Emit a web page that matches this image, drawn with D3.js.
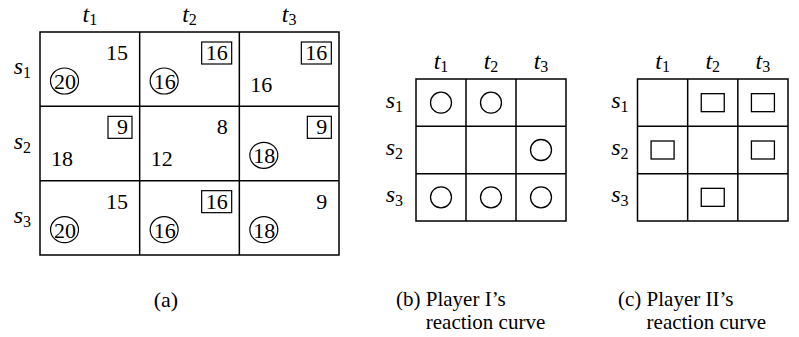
<!DOCTYPE html>
<html><head><meta charset="utf-8">
<script src="https://cdn.jsdelivr.net/npm/d3@7"></script>
<style>
body{margin:0;background:#fff;}
</style></head>
<body>
<svg id="chart" width="799" height="337"></svg>
<script>
// ---- data ----
const rowNames = ["s", "s", "s"];
const rowSubs = ["1", "2", "3"];
const colNames = ["t", "t", "t"];
const colSubs = ["1", "2", "3"];
// Player I payoffs (lower-left of each cell)
const payoffI = [[20, 16, 16], [18, 12, 18], [20, 16, 18]];
// Player II payoffs (upper-right of each cell)
const payoffII = [[15, 16, 16], [9, 8, 9], [15, 16, 9]];
// Player I best responses (circled)
const bestI = [[1, 1, 0], [0, 0, 1], [1, 1, 1]];
// Player II best responses (boxed)
const bestII = [[0, 1, 1], [1, 0, 1], [0, 1, 0]];
const captionA = ["(a)"];
const captionB = ["(b) ", "Player I\u2019s", "reaction curve"];
const captionC = ["(c) ", "Player II\u2019s", "reaction curve"];

const FONT = "Liberation Serif";
const svg = d3.select("#chart");
const idx = [0, 1, 2];

function txt(sel) { return sel.append("text").attr("font-family", FONT).attr("fill", "#000"); }

function makePanel(x0, x1, y0, y1, rowGap) {
  const x = d3.scaleBand().domain(idx).range([x0, x1]).padding(0);
  const y = d3.scaleBand().domain(idx).range([y0, y1]).padding(0);
  const g = svg.append("g");
  idx.forEach(j => {
    const t = txt(g).attr("x", x(j) + x.bandwidth() / 2).attr("y", y0 - 10)
      .attr("text-anchor", "middle").attr("font-size", 24);
    t.append("tspan").attr("font-style", "italic").text(colNames[j]);
    t.append("tspan").attr("dy", 3).attr("font-size", 16).text(colSubs[j]);
  });
  idx.forEach(i => {
    const t = txt(g).attr("x", x0 - rowGap).attr("y", y(i) + y.bandwidth() / 2 + 5)
      .attr("text-anchor", "end").attr("font-size", 24);
    t.append("tspan").attr("font-style", "italic").text(rowNames[i]);
    t.append("tspan").attr("dy", 4).attr("font-size", 16).text(rowSubs[i]);
  });
  const grid = g.append("g").attr("stroke", "#000").attr("stroke-width", 1.5).attr("fill", "none");
  grid.append("rect").attr("x", x0).attr("y", y0).attr("width", x1 - x0).attr("height", y1 - y0);
  [1, 2].forEach(k => {
    grid.append("line").attr("x1", x(k)).attr("x2", x(k)).attr("y1", y0).attr("y2", y1);
    grid.append("line").attr("y1", y(k)).attr("y2", y(k)).attr("x1", x0).attr("x2", x1);
  });
  return {g, x, y};
}

// ---- panel (a) ----
const A = makePanel(40, 339, 32, 255, 9);
idx.forEach(i => idx.forEach(j => {
  const cx = A.x(j), cy = A.y(i);
  const tII = txt(A.g).attr("x", cx + 88).attr("y", cy + 28)
    .attr("text-anchor", "end").attr("font-size", 22).text(payoffII[i][j]);
  if (bestII[i][j]) {
    const w = tII.node().getComputedTextLength();
    const bw = Math.max(w + 8, 24);
    A.g.append("rect").attr("x", cx + 92 - bw).attr("y", cy + 10)
      .attr("width", bw).attr("height", 22)
      .attr("fill", "none").attr("stroke", "#000").attr("stroke-width", 1.2);
  }
  if (bestI[i][j]) {
    txt(A.g).attr("x", cx + 25).attr("y", cy + 57)
      .attr("text-anchor", "middle").attr("font-size", 22).text(payoffI[i][j]);
    A.g.append("ellipse").attr("cx", cx + 24.5).attr("cy", cy + 49).attr("rx", 14).attr("ry", 13)
      .attr("fill", "none").attr("stroke", "#000").attr("stroke-width", 1.2);
  } else {
    txt(A.g).attr("x", cx + 11).attr("y", cy + 60)
      .attr("text-anchor", "start").attr("font-size", 22).text(payoffI[i][j]);
  }
}));

// ---- panel (b) ----
const B = makePanel(416, 566, 79, 221, 13);
idx.forEach(i => idx.forEach(j => {
  if (bestI[i][j]) {
    B.g.append("circle").attr("cx", B.x(j) + B.x.bandwidth() / 2).attr("cy", B.y(i) + B.y.bandwidth() / 2)
      .attr("r", 10.5).attr("fill", "none").attr("stroke", "#000").attr("stroke-width", 1.3);
  }
}));

// ---- panel (c) ----
const C = makePanel(637.5, 788, 79, 221, 9);
idx.forEach(i => idx.forEach(j => {
  if (bestII[i][j]) {
    C.g.append("rect").attr("x", C.x(j) + C.x.bandwidth() / 2 - 11.5).attr("y", C.y(i) + C.y.bandwidth() / 2 - 9)
      .attr("width", 23).attr("height", 18)
      .attr("fill", "none").attr("stroke", "#000").attr("stroke-width", 1.3);
  }
}));

// ---- captions ----
txt(svg).attr("x", 166).attr("y", 307).attr("text-anchor", "middle")
  .attr("font-size", 22).text(captionA[0]);
function caption(xp, texts) {
  const t = txt(svg).attr("x", xp).attr("y", 306).attr("font-size", 21);
  const p = t.append("tspan").text(texts[0]);
  t.append("tspan").text(texts[1]);
  const w = p.node().getComputedTextLength();
  txt(svg).attr("x", xp + w).attr("y", 329).attr("font-size", 21).text(texts[2]);
}
caption(396, captionB);
caption(618, captionC);
</script>
</body></html>
